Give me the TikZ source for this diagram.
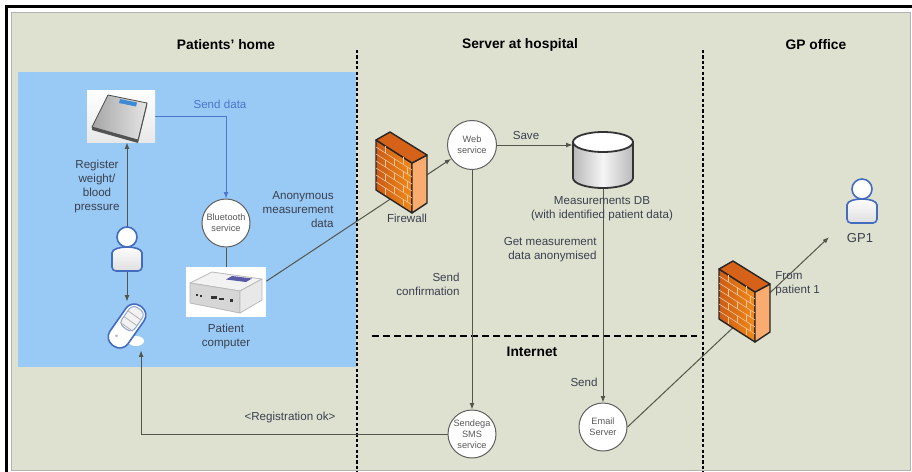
\documentclass[tikz,border=0pt]{standalone}
\usepackage{fontspec}
\setmainfont{Liberation Sans}
\usepackage{xcolor}
\usepackage{tikz}
\usetikzlibrary{arrows.meta,positioning,backgrounds,calc}

\definecolor{wallbg}{RGB}{223,225,208}
\definecolor{homeblue}{RGB}{153,201,245}
\definecolor{linkgray}{RGB}{82,86,74}
\definecolor{sendblue}{RGB}{74,118,205}
\definecolor{labelgray}{RGB}{58,64,78}
\definecolor{brick}{RGB}{238,108,28}
\definecolor{brickhi}{RGB}{250,172,112}
\definecolor{iconblue}{RGB}{68,108,190}

\newcommand{\txtsmall}{\fontsize{5.8}{7}\selectfont}
\newcommand{\txtcircle}{\fontsize{4.6}{5.6}\selectfont}
\newcommand{\txttitle}{\fontsize{6.9}{8}\selectfont\bfseries}

% brick wall drawn round a node centre
\newcommand{\firewallicon}[1]{%
  \begin{scope}[shift={(#1)}, line join=round]
    \draw[black!85, line width=0.7pt, left color=brick!85!black, right color=brick!80!yellow]
      (-25,-32) -- (11,-9) -- (11,41) -- (-25,18) -- cycle;
    \draw[black!85, line width=0.7pt, fill=brickhi]
      (11,-9) -- (26,-17) -- (26,31) -- (11,41) -- cycle;
    \draw[black!85, line width=0.7pt, fill=brick!90!black]
      (-25,-32) -- (-11,-40) -- (26,-17) -- (11,-9) -- cycle;
    \foreach \k in {1,...,6}
      \draw[brickhi!70!white, line width=0.3pt] (-25,{-32+7*\k}) -- (11,{-9+7*\k});
    \foreach \k/\xa in {0/-16,0/2,1/-7,1/6,2/-16,2/2,3/-7,3/6,4/-16,4/2,5/-7,5/6,6/-16,6/2}
      \draw[brickhi!70!white, line width=0.3pt] (\xa,{-32+(\xa+25)*23/36+7*\k}) -- ++(0,7);
  \end{scope}}

% user figure
\newcommand{\personicon}[1]{%
  \begin{scope}[shift={(#1)}]
    \draw[iconblue, line width=0.8pt, top color=white, bottom color=gray!25, rounded corners=2pt]
      (-15,22) -- (-15,8) .. controls (-15,-4) and (15,-4) .. (15,8) -- (15,22) -- cycle;
    \draw[iconblue, line width=0.8pt, fill=white] (0,-12) circle[radius=10];
  \end{scope}}

\begin{document}
\begin{tikzpicture}[x=0.5pt, y=-0.5pt,
  every node/.style={font=\txtsmall, text=labelgray, align=center, inner sep=1pt},
  svc/.style={circle, draw=gray!75!black, fill=white, inner sep=0pt, line width=0.5pt,
    font=\txtcircle, text=gray!70!black},
  title/.style={font=\txttitle, text=black},
  link/.style={draw=linkgray, line width=0.5pt},
  arr/.style={-{Latex[length=3.2pt,width=2.4pt]}},
  sendlink/.style={draw=sendblue, line width=0.5pt, -{Latex[length=3.2pt,width=2.4pt]}},
  zone/.style={line width=1.1pt, dash pattern=on 1.6pt off 1.1pt},
  net/.style={line width=1.1pt, dash pattern=on 3.5pt off 2pt}]
  \useasboundingbox (0,0) rectangle (912,472);

  % frame and zones
  \begin{pgfonlayer}{background}
    \fill[white] (0,0) rectangle (912,472);
    \draw[line width=1.2pt] (6.5,472) -- (6.5,6.5) -- (912,6.5);
    \draw[fill=wallbg, draw=gray!60] (11,12) rectangle (910,470);
    \fill[homeblue] (18,72) rectangle (356,367);
    \draw[zone] (357,50) -- (357,472);
    \draw[zone] (703,50) -- (703,472);
    \draw[net] (372,336) -- (697,336);
  \end{pgfonlayer}

  \node[title] (homettl) at (226,45) {Patients' home};
  \node[title] (hospttl) at (520,45) {Server at hospital};
  \node[title] (gpttl)   at (816,45) {GP office};
  \node[title] (netttl)  at (532,352) {Internet};

  % devices at home
  \node[inner sep=0pt, minimum width=34pt, minimum height=26pt, top color=white, bottom color=gray!18] (scale) at (121,116) {};
  \begin{scope}[shift={(scale)}]
    \fill[gray!65!black] (-29,11) -- (17,24) -- (26,-13) -- (26,-10) -- (17,27) -- (-29,14) -- cycle;
    \draw[gray!60!black, line width=0.4pt, left color=gray!70, right color=gray!20]
      (-29,11) -- (-13,-21) -- (26,-13) -- (17,24) -- cycle;
    \fill[sendblue!85!cyan] (-1,-17) -- (16,-13.5) -- (15,-9.5) -- (-2,-13) -- cycle;
  \end{scope}

  \node[inner sep=0pt, minimum width=15pt, minimum height=22pt] (patient) at (127,249) {};
  \personicon{patient}

  \node[inner sep=0pt, minimum width=25pt, minimum height=24pt] (phone) at (127,326) {};
  \fill[white] (136,341) ellipse[x radius=8, y radius=5];
  \begin{scope}[shift={(phone)}, rotate=-35]
    \draw[iconblue, line width=0.8pt, fill=white, rounded corners=5pt] (-11,-24) rectangle (11,24);
    \draw[iconblue!60, line width=0.5pt, fill=gray!10, rounded corners=3pt] (-8,-21) rectangle (8,3);
    \foreach \yy in {-13,-6,1} \draw[gray!60] (-8,\yy) -- (8,\yy);
    \fill[gray!60] (-3,14) circle[radius=1.5];
  \end{scope}

  \node[svc, minimum size=24pt] (bt) at (226,223) {Bluetooth\\service};

  \node[inner sep=0pt, minimum width=40pt, minimum height=25pt, fill=white] (pc) at (226,292) {};
  \begin{scope}[shift={(pc)}, line join=round]
    \draw[gray!55, fill=gray!10] (-36,-9) -- (-14,-20) -- (36,-13) -- (14,-1) -- cycle;
    \draw[gray!55, fill=gray!32] (-36,-9) -- (14,-1) -- (14,21) -- (-36,11) -- cycle;
    \draw[gray!55, fill=gray!18] (14,-1) -- (36,-13) -- (36,8) -- (14,21) -- cycle;
    \fill[blue!30!gray] (6,-16) -- (26,-13.5) -- (20,-10) -- (0,-12.5) -- cycle;
    \foreach \px/\pw in {-30/2,-26/2,-15/6,-7/5,4/3}
      \fill[black!80] (\px,{(\px+36)*0.16+1}) rectangle ++(\pw,2.5);
  \end{scope}

  \node (senddata) at (220,104) [text=sendblue] {Send data};
  \node (register) at (97,186) {Register\\weight/\\blood\\pressure};
  \node (pclbl) at (226,336) {Patient\\computer};
  \node[anchor=east, align=right] (anon) at (336,210) {Anonymous\\measurement\\data};
  \node (regok) at (290,417) {<Registration ok>};

  % hospital side
  \node[inner sep=0pt, minimum width=26pt, minimum height=41pt] (fw1) at (401,172) {};
  \firewallicon{fw1}
  \node (fwlbl) at (407,218) {Firewall};

  \node[svc, minimum size=24.5pt] (web) at (472,145) {Web\\service};
  \node[inner sep=0pt, minimum width=30pt, minimum height=28pt] (db) at (603,160) {};
  \begin{scope}[shift={(db)}]
    \draw[line width=0.9pt, draw=black!80, left color=gray!55, right color=gray!55, middle color=gray!8]
      (-30,-18) -- (-30,18) arc[start angle=180, end angle=0, x radius=30, y radius=10] -- (30,-18) -- cycle;
    \draw[line width=0.9pt, draw=black!80, fill=white] (0,-18) ellipse[x radius=30, y radius=10];
  \end{scope}
  \node (save) at (526,136) {Save};
  \node (dblbl) at (602,209) {Measurements DB\\(with identified patient data)};
  \node[anchor=east, align=right] (getlbl) at (599,250) {Get measurement\\data anonymised};
  \node[anchor=east, align=right] (confirm) at (462,284) {Send\\confirmation};
  \node[anchor=east] (sendlbl) at (600,382) {Send};

  \node[svc, minimum size=24pt] (sms) at (472,434) {Sendega\\SMS\\service};
  \node[svc, minimum size=24pt] (email) at (603,427) {Email\\Server};

  % GP side
  \node[inner sep=0pt, minimum width=26pt, minimum height=42pt] (fw2) at (744,301) {};
  \firewallicon{fw2}
  \node[anchor=west, align=left] (fromlbl) at (773,284) {From\\patient 1};
  \node[inner sep=0pt, minimum width=18pt, minimum height=22pt] (gp) at (862,201) {};
  \personicon{gp}
  \node[font=\fontsize{6.5}{7.5}\selectfont] (gplbl) at (860,238) {GP1};

  % connectors
  \begin{pgfonlayer}{background}
    \draw[sendlink] (scale.east) -| (bt.north);
    \draw[link] (bt.south) -- (bt.south |- pc.north);
    \draw[link,arr] (patient.north) -- (patient.north |- scale.south);
    \draw[link,arr] (patient.south) -- (patient.south |- phone.north);
    \draw[link,arr] (pc.15) -- (web);
    \draw[link,arr] (web) -- (web -| db.west);
    \draw[link,arr] (db.south) -- (email.north);
    \draw[link,arr] (web) -- (sms);
    \draw[link,arr] (sms.west) -| (phone.-60);
    \draw[link,arr,shorten >=10pt] (email.east) -- (gp.south west);
  \end{pgfonlayer}
\end{tikzpicture}
\end{document}
